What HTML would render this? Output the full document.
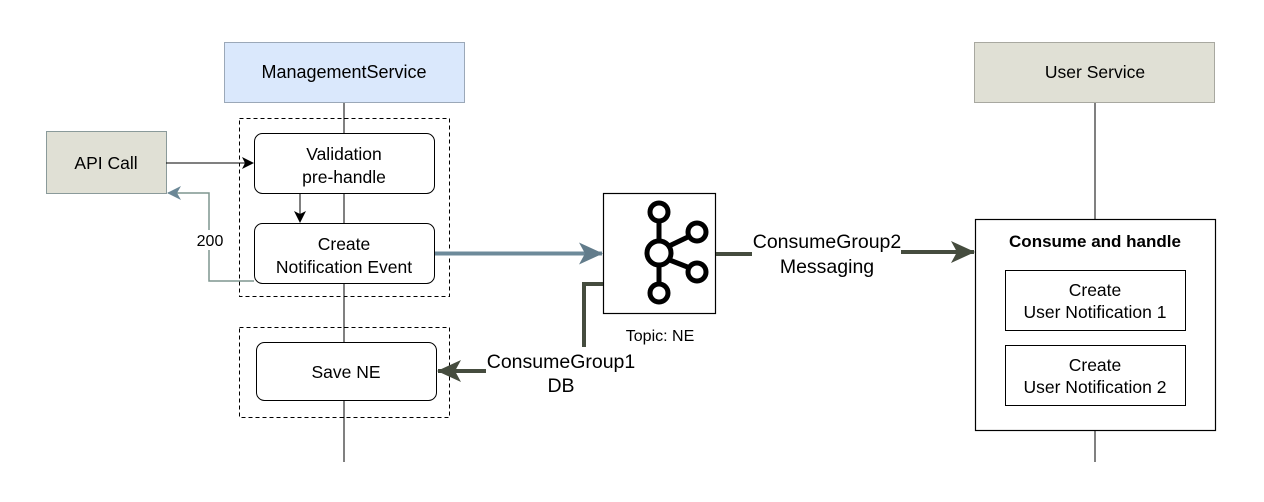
<!DOCTYPE html>
<html><head><meta charset="utf-8"><style>
body{margin:0;background:#fff;}
svg{display:block;font-family:"Liberation Sans",Arial,sans-serif;}
</style></head><body>
<svg width="1264" height="502" viewBox="0 0 1264 502" xmlns="http://www.w3.org/2000/svg">
<defs>
<marker id="ab" markerWidth="12" markerHeight="12" refX="11" refY="6" orient="auto" markerUnits="userSpaceOnUse"><path d="M0,0 L12,6 L0,12 L3,6 Z" fill="#000"/></marker>
<marker id="ag" markerWidth="14" markerHeight="14" refX="13" refY="7" orient="auto" markerUnits="userSpaceOnUse"><path d="M0,0 L14,7 L0,14 L4,7 Z" fill="#6b8796"/></marker>
<marker id="abl" markerWidth="24" markerHeight="22" refX="23" refY="11" orient="auto" markerUnits="userSpaceOnUse"><path d="M0,0 L24,11 L0,22 L6,11 Z" fill="#627c8b"/></marker>
<marker id="ad" markerWidth="24" markerHeight="22" refX="23" refY="11" orient="auto" markerUnits="userSpaceOnUse"><path d="M0,0 L24,11 L0,22 L6,11 Z" fill="#454c3e"/></marker>
</defs>
<line x1="344" y1="102" x2="344" y2="462" stroke="#000" stroke-width="1"/>
<line x1="1095" y1="102" x2="1095" y2="462" stroke="#000" stroke-width="1"/>
<rect x="224.5" y="42.5" width="240" height="60" fill="#dae8fc" stroke="#9ba8b8"/>
<text x="344" y="78" font-size="18" text-anchor="middle">ManagementService</text>
<rect x="974.5" y="42.5" width="240" height="60" fill="#e0e0d5" stroke="#a8a8a0"/>
<text x="1095" y="78" font-size="17.5" text-anchor="middle">User Service</text>
<rect x="239.5" y="118.5" width="210" height="178" fill="none" stroke="#000" stroke-dasharray="4,3"/>
<rect x="239.5" y="327.5" width="210" height="90" fill="none" stroke="#000" stroke-dasharray="4,3"/>
<rect x="46.5" y="131.5" width="120" height="62" fill="#e0e0d5" stroke="#8a9a9a"/>
<text x="106" y="169" font-size="17.5" text-anchor="middle">API Call</text>
<rect x="254.5" y="133.5" width="180" height="60" rx="8" fill="#fff" stroke="#000"/>
<text x="344" y="160" font-size="17.5" text-anchor="middle">Validation</text>
<text x="344" y="183" font-size="17.5" text-anchor="middle">pre-handle</text>
<rect x="254.5" y="223.5" width="180" height="60" rx="8" fill="#fff" stroke="#000"/>
<text x="344" y="250" font-size="17.5" text-anchor="middle">Create</text>
<text x="344" y="273" font-size="17.5" text-anchor="middle">Notification Event</text>
<rect x="256.5" y="342.5" width="180" height="58" rx="8" fill="#fff" stroke="#000"/>
<text x="346" y="378" font-size="17.5" text-anchor="middle">Save NE</text>
<line x1="166" y1="163" x2="253" y2="163" stroke="#000" marker-end="url(#ab)"/>
<line x1="300" y1="193" x2="300" y2="222" stroke="#000" marker-end="url(#ab)"/>
<polyline points="254,281 209,281 209,193 168,193" fill="none" stroke="#7f958f" stroke-width="1.5" marker-end="url(#ag)"/>
<rect x="195" y="230" width="30" height="20" fill="#fff"/>
<text x="210" y="246" font-size="16" text-anchor="middle">200</text>
<line x1="435" y1="253.5" x2="602" y2="253.5" stroke="#6d8a9a" stroke-width="4" marker-end="url(#abl)"/>
<rect x="603.5" y="193.5" width="112" height="120" fill="#fff" stroke="#000" stroke-width="1.2"/>
<g stroke="#000" stroke-width="5" fill="none">
<line x1="659" y1="222" x2="659" y2="283"/>
<line x1="667" y1="247" x2="690" y2="236"/>
<line x1="667" y1="259" x2="690" y2="268"/>
<circle cx="659" cy="212" r="9"/>
<circle cx="659" cy="253" r="12" fill="#fff"/>
<circle cx="659" cy="293" r="9"/>
<circle cx="697" cy="232" r="9"/>
<circle cx="697" cy="272" r="9"/>
</g>
<text x="660" y="341" font-size="16" text-anchor="middle">Topic: NE</text>
<line x1="716" y1="254" x2="752" y2="254" stroke="#454c3e" stroke-width="4"/>
<line x1="901" y1="252" x2="974" y2="252" stroke="#454c3e" stroke-width="4" marker-end="url(#ad)"/>
<text x="827" y="248" font-size="19.5" text-anchor="middle">ConsumeGroup2</text>
<text x="827" y="273" font-size="19.5" text-anchor="middle">Messaging</text>
<polyline points="603,284 584,284 584,347" fill="none" stroke="#454c3e" stroke-width="4"/>
<line x1="486" y1="371" x2="438" y2="371" stroke="#454c3e" stroke-width="4" marker-end="url(#ad)"/>
<text x="561" y="368" font-size="19.5" text-anchor="middle">ConsumeGroup1</text>
<text x="561" y="392" font-size="19.5" text-anchor="middle">DB</text>
<rect x="975.5" y="219.5" width="240" height="211" fill="#fff" stroke="#000" stroke-width="1.2"/>
<text x="1095" y="247" font-size="17" font-weight="bold" text-anchor="middle">Consume and handle</text>
<rect x="1005.5" y="270.5" width="180" height="60" fill="#fff" stroke="#000"/>
<text x="1095" y="296" font-size="17.5" text-anchor="middle">Create</text>
<text x="1095" y="318" font-size="17.5" text-anchor="middle">User Notification 1</text>
<rect x="1005.5" y="345.5" width="180" height="60" fill="#fff" stroke="#000"/>
<text x="1095" y="371" font-size="17.5" text-anchor="middle">Create</text>
<text x="1095" y="393" font-size="17.5" text-anchor="middle">User Notification 2</text>
</svg>
</body></html>
